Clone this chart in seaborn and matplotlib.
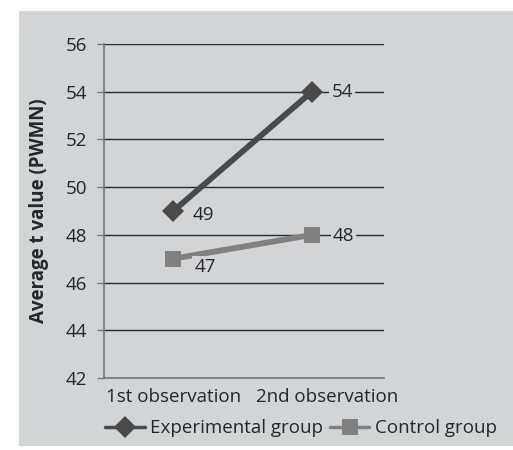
import matplotlib
matplotlib.use("Agg")
import matplotlib.pyplot as plt
import matplotlib.transforms as mtransforms
import pandas as pd
import seaborn as sns
from matplotlib.patches import Rectangle

# data
observations = ["1st observation", "2nd observation"]
experimental = [49, 54]
control = [47, 48]
groups = ["Experimental group", "Control group"]
y_ticks = [42, 44, 46, 48, 50, 52, 54, 56]

df = pd.DataFrame({
    "obs": observations * 2,
    "value": experimental + control,
    "group": [groups[0]] * 2 + [groups[1]] * 2,
})

bg = "#d3d4d6"
dark = "#4a4a4a"
mid = "#808080"
txt = "#262626"
fs = 13.5

sns.set_style("white")
plt.rcParams["font.family"] = ["Open Sans", "DejaVu Sans"]

fig = plt.figure(figsize=(5.13, 4.5), dpi=100)
fig.patch.set_facecolor("white")
fig.patches.append(Rectangle((19 / 513, 4 / 450), 1 - 19 / 513, 435 / 450,
                             transform=fig.transFigure, facecolor=bg,
                             edgecolor="none", zorder=-5))

ax = fig.add_axes([104 / 513, 1 - 378 / 450, 280 / 513, 334 / 450])
ax.set_facecolor(bg)

sns.lineplot(data=df, x="obs", y="value", hue="group", style="group",
             markers={groups[0]: "D", groups[1]: "s"}, dashes=False,
             palette={groups[0]: dark, groups[1]: mid},
             linewidth=4.2, markersize=11.5, markeredgewidth=0,
             ax=ax, zorder=3)
ax.lines[1].set_markersize(12)

ax.set_ylim(42, 56)
ax.set_xlim(-0.5, 1.52)
ax.set_yticks(y_ticks)
for t in y_ticks[1:]:
    ax.axhline(t, color="#2a2a2a", linewidth=1.0, zorder=1)

for s in ["top", "right"]:
    ax.spines[s].set_visible(False)
ax.spines["left"].set_color("#777777")
ax.spines["bottom"].set_color("#777777")
ax.spines["left"].set_linewidth(1.2)
ax.spines["bottom"].set_linewidth(1.2)
ax.tick_params(axis="y", left=True, length=5, width=1, color="#777777",
               labelsize=fs, labelcolor=txt, pad=7)
ax.tick_params(axis="x", bottom=False, labelsize=fs, labelcolor=txt, pad=4)

# second category label sits a bit to the right, as in the original
shift = mtransforms.ScaledTranslation(15 / 100, 0, fig.dpi_scale_trans)
lab2 = ax.get_xticklabels()[1]
lab2.set_transform(lab2.get_transform() + shift)

ax.set_xlabel("")
ax.set_ylabel("Average t value (PWMN)", fontsize=13.5, fontweight="bold",
              color=txt, labelpad=12)

# value labels
offsets = {groups[0]: [(14, -3), (14, 0)], groups[1]: [(15, -6), (15, -1)]}
for g, vals in zip(groups, [experimental, control]):
    for i, v in enumerate(vals):
        ax.annotate(str(v), (i, v), textcoords="offset points",
                    xytext=offsets[g][i], ha="left", va="center",
                    fontsize=fs, color=txt, zorder=4,
                    bbox=dict(facecolor=bg, edgecolor="none", pad=1.5))

leg = ax.legend(loc="center left", bbox_to_anchor=(-0.055, -0.15), ncol=2,
                frameon=False, fontsize=fs, handlelength=2.1,
                handletextpad=0.3, columnspacing=0.35, labelcolor=txt)
for h in leg.legend_handles:
    h.set_linewidth(2.5)
    h.set_markersize(11)

fig.savefig("out.png", dpi=100)
